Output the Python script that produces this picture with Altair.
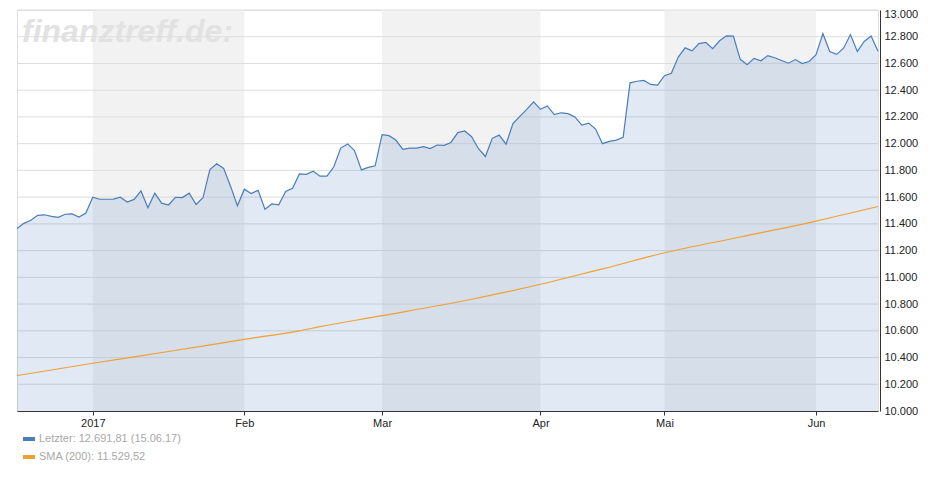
import altair as alt
import pandas as pd

# ---- data ----
dates = [
    "2016-12-15", "2016-12-16", "2016-12-19", "2016-12-20", "2016-12-21", "2016-12-22", "2016-12-23",
    "2016-12-27", "2016-12-28", "2016-12-29", "2016-12-30",
    "2017-01-02", "2017-01-03", "2017-01-04", "2017-01-05", "2017-01-06", "2017-01-09", "2017-01-10",
    "2017-01-11", "2017-01-12", "2017-01-13", "2017-01-16", "2017-01-17", "2017-01-18", "2017-01-19",
    "2017-01-20", "2017-01-23", "2017-01-24", "2017-01-25", "2017-01-26", "2017-01-27", "2017-01-30",
    "2017-01-31",
    "2017-02-01", "2017-02-02", "2017-02-03", "2017-02-06", "2017-02-07", "2017-02-08", "2017-02-09",
    "2017-02-10", "2017-02-13", "2017-02-14", "2017-02-15", "2017-02-16", "2017-02-17", "2017-02-20",
    "2017-02-21", "2017-02-22", "2017-02-23", "2017-02-24", "2017-02-27", "2017-02-28",
    "2017-03-01", "2017-03-02", "2017-03-03", "2017-03-06", "2017-03-07", "2017-03-08", "2017-03-09",
    "2017-03-10", "2017-03-13", "2017-03-14", "2017-03-15", "2017-03-16", "2017-03-17", "2017-03-20",
    "2017-03-21", "2017-03-22", "2017-03-23", "2017-03-24", "2017-03-27", "2017-03-28", "2017-03-29",
    "2017-03-30", "2017-03-31",
    "2017-04-03", "2017-04-04", "2017-04-05", "2017-04-06", "2017-04-07", "2017-04-10", "2017-04-11",
    "2017-04-12", "2017-04-13", "2017-04-18", "2017-04-19", "2017-04-20", "2017-04-21", "2017-04-24",
    "2017-04-25", "2017-04-26", "2017-04-27", "2017-04-28",
    "2017-05-02", "2017-05-03", "2017-05-04", "2017-05-05", "2017-05-08", "2017-05-09", "2017-05-10",
    "2017-05-11", "2017-05-12", "2017-05-15", "2017-05-16", "2017-05-17", "2017-05-18", "2017-05-19",
    "2017-05-22", "2017-05-23", "2017-05-24", "2017-05-25", "2017-05-26", "2017-05-29", "2017-05-30",
    "2017-05-31",
    "2017-06-01", "2017-06-02", "2017-06-06", "2017-06-07", "2017-06-08", "2017-06-09", "2017-06-12",
    "2017-06-13", "2017-06-14", "2017-06-15",
]

prices = [
    11366, 11404, 11427, 11464, 11468, 11456, 11449, 11472, 11475, 11451, 11481,
    11599, 11584, 11584, 11585, 11599, 11563, 11583, 11646, 11521, 11630, 11555,
    11541, 11599, 11597, 11630, 11545, 11595, 11806, 11849, 11815, 11682, 11535,
    11659, 11627, 11651, 11510, 11549, 11543, 11643, 11666, 11774, 11771, 11794,
    11757, 11757, 11827, 11967, 11998, 11948, 11804, 11823, 11834,
    12067, 12060, 12027, 11958, 11966, 11967, 11978, 11963, 11990, 11988, 12009,
    12083, 12095, 12052, 11962, 11904, 12040, 12064, 11996, 12150, 12204, 12256, 12313,
    12257, 12282, 12218, 12231, 12225, 12200, 12139, 12154, 12109, 12000, 12017,
    12027, 12048, 12455, 12467, 12473, 12443, 12438,
    12508, 12527, 12648, 12717, 12694, 12749, 12757, 12711, 12770, 12807, 12804,
    12631, 12590, 12638, 12620, 12659, 12643, 12622, 12602, 12629, 12599, 12615,
    12665, 12823, 12690, 12668, 12714, 12816, 12690, 12765, 12806, 12692,
]

# SMA(200) read at selected trading-day positions
sma_idx = [0, 11, 22, 33, 41, 44, 53, 66, 76, 82, 85, 94, 105, 116, 125]
sma_val = [10265, 10357, 10445, 10536, 10600, 10631, 10713, 10836, 10948,
           11025, 11063, 11184, 11302, 11421, 11530]

# month ticks (trading-day index of first trading day of each month)
tick_idx = [11, 33, 53, 76, 94, 116]
tick_labels = ["2017", "Feb", "Mar", "Apr", "Mai", "Jun"]

# shaded months (Jan, Mar, Mai)
band_start = [11, 53, 94]
band_end = [33, 76, 116]

y_ticks = [10000, 10200, 10400, 10600, 10800, 11000, 11200, 11400, 11600, 11800,
           12000, 12200, 12400, 12600, 12800, 13000]

series_names = ["Letzter: 12.691,81 (15.06.17)", "SMA (200): 11.529,52"]
series_colors = ["#4a7ebb", "#f0a030"]

# ---- tables ----
price_df = pd.DataFrame({"i": list(range(len(prices))), "date": dates, "v": prices,
                         "series": series_names[0]})
sma_df = pd.DataFrame({"i": sma_idx, "v": sma_val, "series": series_names[1]})
bands_df = pd.DataFrame({"s": band_start, "e": band_end})
grid_df = pd.DataFrame({"g": y_ticks[1:]})

N = len(prices) - 1
xscale = alt.Scale(domain=[0, N], nice=False, zero=False)
yscale = alt.Scale(domain=[10000, 13000], nice=False, zero=False)

label_expr = " : ".join(
    f"datum.value == {i} ? '{l}'" for i, l in zip(tick_idx, tick_labels)
) + " : ''"

top_test = f"datum.value == {y_ticks[-1]}"

x_axis = alt.Axis(values=tick_idx, labelExpr=label_expr, grid=False, title=None,
                  domainColor="#333333", tickColor="#333333", tickSize=4,
                  labelColor="#222222", labelFontSize=11, labelPadding=2,
                  labelFont="Liberation Sans", labelOverlap=False)
y_axis = alt.Axis(orient="right", values=y_ticks, grid=False, ticks=False, title=None,
                  labelExpr="replace(format(datum.value, ',.0f'), ',', '.')",
                  domainColor="#333333", labelColor="#222222", labelFontSize=11,
                  labelPadding=4, offset=2, labelFont="Liberation Sans",
                  labelOverlap=False, labelFlush=False, labelBound=False,
                  labelBaseline={"condition": {"test": top_test, "value": "top"},
                                 "value": "middle"},
                  labelOffset={"condition": {"test": top_test, "value": -2},
                               "value": 0})


def X(field):
    return alt.X(field, type="quantitative", scale=xscale, axis=x_axis)


def Y(field):
    return alt.Y(field, type="quantitative", scale=yscale, axis=y_axis)


color_scale = alt.Scale(domain=series_names, range=series_colors)
legend = alt.Legend(
    title=None, orient="none", legendX=4, legendY=421, direction="vertical",
    symbolType="stroke", symbolStrokeWidth=4, symbolSize=144,
    labelFont="Liberation Sans", labelFontSize=11, labelColor="#a8a8a8",
    labelOffset=2, rowPadding=2, padding=0,
)

bands = alt.Chart(bands_df).mark_rect(color="#f2f2f2").encode(
    x=X("s"),
    x2="e:Q",
    y=alt.value(0),
    y2=alt.value(401),
)

watermark = alt.Chart(pd.DataFrame({"t": ["finanztreff.de:"]})).mark_text(
    align="left", baseline="alphabetic", font="Liberation Sans", fontSize=32,
    fontWeight="bold", fontStyle="italic", color="#e2e2e2",
).encode(text="t:N", x=alt.value(5), y=alt.value(32))

grid = alt.Chart(grid_df).mark_rule(color="#dddddd", strokeWidth=1).encode(
    y=Y("g")
)

area = alt.Chart(price_df).mark_area(color="#4a7ebb", opacity=0.17).encode(
    x=X("i"),
    y=Y("v"),
    y2=alt.datum(10000),
)

price_line = alt.Chart(price_df).mark_line(strokeWidth=1.2).encode(
    x=X("i"),
    y=Y("v"),
    color=alt.Color("series:N", scale=color_scale, legend=legend),
)

sma_line = alt.Chart(sma_df).mark_line(strokeWidth=1.2, interpolate="monotone").encode(
    x=X("i"),
    y=Y("v"),
    color=alt.Color("series:N", scale=color_scale, legend=legend),
)

chart = alt.layer(bands, watermark, grid, area, sma_line, price_line).resolve_scale(
    x="shared", y="shared", color="shared"
).properties(
    width=861, height=401,
    autosize=alt.AutoSizeParams(type="none"),
    padding={"left": 9, "top": 2, "right": 54, "bottom": 81},
).configure_view(stroke=None).configure(font="Liberation Sans", background="white")

chart.save("out.html", embed_options={"renderer": "svg", "actions": False})
